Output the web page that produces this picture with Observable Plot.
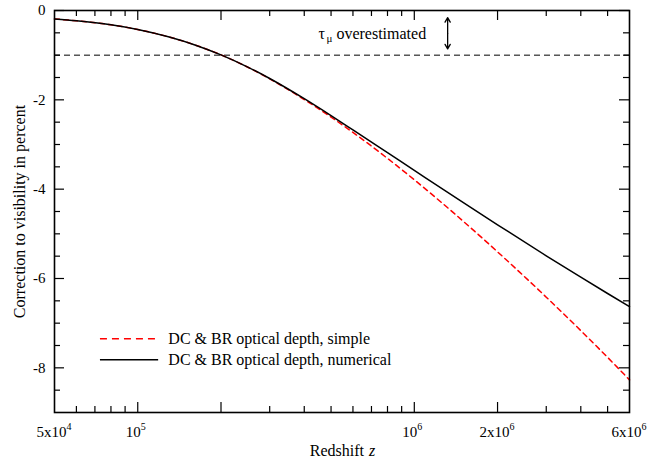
<!DOCTYPE html>
<html>
<head>
<meta charset="utf-8">
<script src="https://cdn.jsdelivr.net/npm/d3@7"></script>
<script src="https://cdn.jsdelivr.net/npm/@observablehq/plot@0.6"></script>
<style>
  body { margin: 0; background: #fff; }
  #chart svg { display: block; }
</style>
</head>
<body>
<div id="chart"></div>
<script>
// Data
const redshift = [5e4, 6e4, 8e4, 1e5, 1.3e5, 1.6e5, 2e5, 2.5e5, 3e5, 4e5, 5e5, 6e5, 8e5, 1e6, 1.5e6, 2e6, 3e6, 4e6, 5e6, 6e6];
const numerical = [-0.19, -0.23, -0.32, -0.425, -0.594, -0.765, -0.993, -1.266, -1.522, -1.975, -2.354, -2.674, -3.184, -3.58, -4.297, -4.798, -5.491, -5.971, -6.336, -6.63];
const simple = [-0.19, -0.23, -0.32, -0.425, -0.594, -0.765, -0.993, -1.27, -1.53, -1.993, -2.387, -2.73, -3.311, -3.79, -4.714, -5.403, -6.418, -7.167, -7.766, -8.27];

// Axis ticks
const xMajorTicks = [1e5, 2e5, 1e6, 2e6];
const xMinorTicks = [6e4, 7e4, 8e4, 9e4, 3e5, 4e5, 5e5, 6e5, 7e5, 8e5, 9e5, 3e6, 4e6, 5e6];
const xLabelValues = [5e4, 1e5, 1e6, 2e6, 6e6];
const xLabelBases = ["5x10", "10", "10", "2x10", "6x10"];
const xLabelExps = ["4", "5", "6", "6", "6"];
const yMajorTicks = [0, -2, -4, -6, -8];
const yMinorTicks = [-0.5, -1, -1.5, -2.5, -3, -3.5, -4.5, -5, -5.5, -6.5, -7, -7.5, -8.5];

// Reference line, annotation, legend
const thresholdY = [-1];
const annotation = {z: 4.5e5, y: -0.52};
const arrowPos = {z: 1.32e6, yMid: -0.51, yTop: -0.16, yBottom: -0.86};
const legendLabels = ["DC & BR optical depth, simple", "DC & BR optical depth, numerical"];
const legendColors = ["#ff0000", "#000000"];
const legendY = [-7.35, -7.82];
const legendX1 = 7.33e4, legendX2 = 1.19e5, legendTextX = 1.29e5;

const font = "Liberation Serif, Times New Roman, serif";
const W = 664, H = 464, mL = 54, mR = 35, mT = 10, mB = 52;
const pw = W - mL - mR, ph = H - mT - mB;

const numData = redshift.map((z, i) => ({z, v: numerical[i]}));
const simData = redshift.map((z, i) => ({z, v: simple[i]}));
const labels = xLabelValues.map((z, i) => ({z, base: xLabelBases[i], exp: xLabelExps[i]}));
const longLabels = labels.filter(d => d.base.length > 2);
const shortLabels = labels.filter(d => d.base.length <= 2);
const legend = legendLabels.map((t, i) => ({t, c: legendColors[i], y: legendY[i]}));

const chart = Plot.plot({
  width: W, height: H,
  marginLeft: mL, marginRight: mR, marginTop: mT, marginBottom: mB,
  style: {fontFamily: font, background: "#fff", color: "#000"},
  x: {type: "log", domain: [5e4, 6e6], axis: null},
  y: {domain: [-9, 0], axis: null},
  marks: [
    // dashed threshold
    Plot.ruleY(thresholdY, {stroke: "#000", strokeWidth: 1, strokeDasharray: "6,4"}),
    // curves
    Plot.line(simData, {x: "z", y: "v", stroke: "#ff0000", strokeWidth: 1.5, strokeDasharray: "5,4", curve: "monotone-x"}),
    Plot.line(numData, {x: "z", y: "v", stroke: "#000", strokeWidth: 1.5, curve: "monotone-x"}),
    // ticks (inward, mirrored)
    Plot.ruleX(xMajorTicks, {stroke: "#000", strokeWidth: 1.2, insetTop: ph - 10}),
    Plot.ruleX(xMajorTicks, {stroke: "#000", strokeWidth: 1.2, insetBottom: ph - 10}),
    Plot.ruleX(xMinorTicks, {stroke: "#000", strokeWidth: 1.2, insetTop: ph - 6}),
    Plot.ruleX(xMinorTicks, {stroke: "#000", strokeWidth: 1.2, insetBottom: ph - 6}),
    Plot.ruleY(yMajorTicks, {stroke: "#000", strokeWidth: 1.2, insetRight: pw - 10}),
    Plot.ruleY(yMajorTicks, {stroke: "#000", strokeWidth: 1.2, insetLeft: pw - 10}),
    Plot.ruleY(yMinorTicks, {stroke: "#000", strokeWidth: 1.2, insetRight: pw - 6}),
    Plot.ruleY(yMinorTicks, {stroke: "#000", strokeWidth: 1.2, insetLeft: pw - 6}),
    Plot.frame({stroke: "#000", strokeWidth: 1.6}),
    // y tick labels
    Plot.text(yMajorTicks, {frameAnchor: "left", y: d => d, text: d => String(d), dx: -9, textAnchor: "end", fontSize: 15, fill: "#000"}),
    // x tick labels (base + superscript)
    Plot.text(longLabels, {x: "z", frameAnchor: "bottom", text: "base", textAnchor: "end", dx: 12, dy: 24, fontSize: 15, fill: "#000"}),
    Plot.text(longLabels, {x: "z", frameAnchor: "bottom", text: "exp", textAnchor: "start", dx: 12, dy: 17, fontSize: 10, fill: "#000"}),
    Plot.text(shortLabels, {x: "z", frameAnchor: "bottom", text: "base", textAnchor: "end", dx: 3, dy: 24, fontSize: 15, fill: "#000"}),
    Plot.text(shortLabels, {x: "z", frameAnchor: "bottom", text: "exp", textAnchor: "start", dx: 3, dy: 17, fontSize: 10, fill: "#000"}),
    // axis titles
    Plot.text(["Redshift"], {frameAnchor: "bottom", text: d => d, textAnchor: "end", dx: 22, dy: 43, fontSize: 16, fill: "#000"}),
    Plot.text(["z"], {frameAnchor: "bottom", text: d => d, textAnchor: "start", dx: 27, dy: 43, fontSize: 16, fontStyle: "italic", fill: "#000"}),
    Plot.text(["Correction to visibility in percent"], {frameAnchor: "left", text: d => d, rotate: -90, textAnchor: "middle", dx: -35, fontSize: 16, fill: "#000"}),
    // annotation
    Plot.text([annotation], {x: "z", y: "y", text: () => "τ", textAnchor: "start", fontSize: 16, fill: "#000"}),
    Plot.text([annotation], {x: "z", y: "y", text: () => "μ", textAnchor: "start", dx: 8, dy: 5, fontSize: 11, fill: "#000"}),
    Plot.text([annotation], {x: "z", y: "y", text: () => "overestimated", textAnchor: "start", dx: 18, fontSize: 16, fill: "#000"}),
    Plot.arrow([arrowPos], {x1: "z", x2: "z", y1: "yMid", y2: "yTop", stroke: "#000", strokeWidth: 1.3, headLength: 6}),
    Plot.arrow([arrowPos], {x1: "z", x2: "z", y1: "yMid", y2: "yBottom", stroke: "#000", strokeWidth: 1.3, headLength: 6}),
    // legend
    Plot.ruleY(legend.filter((d, i) => i === 0), {y: "y", x1: () => legendX1, x2: () => legendX2, stroke: "c", strokeWidth: 1.5, strokeDasharray: "7,5"}),
    Plot.ruleY(legend.filter((d, i) => i === 1), {y: "y", x1: () => legendX1, x2: () => legendX2, stroke: "c", strokeWidth: 1.5}),
    Plot.text(legend, {x: () => legendTextX, y: "y", text: "t", textAnchor: "start", fontSize: 16, fill: "#000"})
  ]
});
document.getElementById("chart").appendChild(chart);
</script>
</body>
</html>
